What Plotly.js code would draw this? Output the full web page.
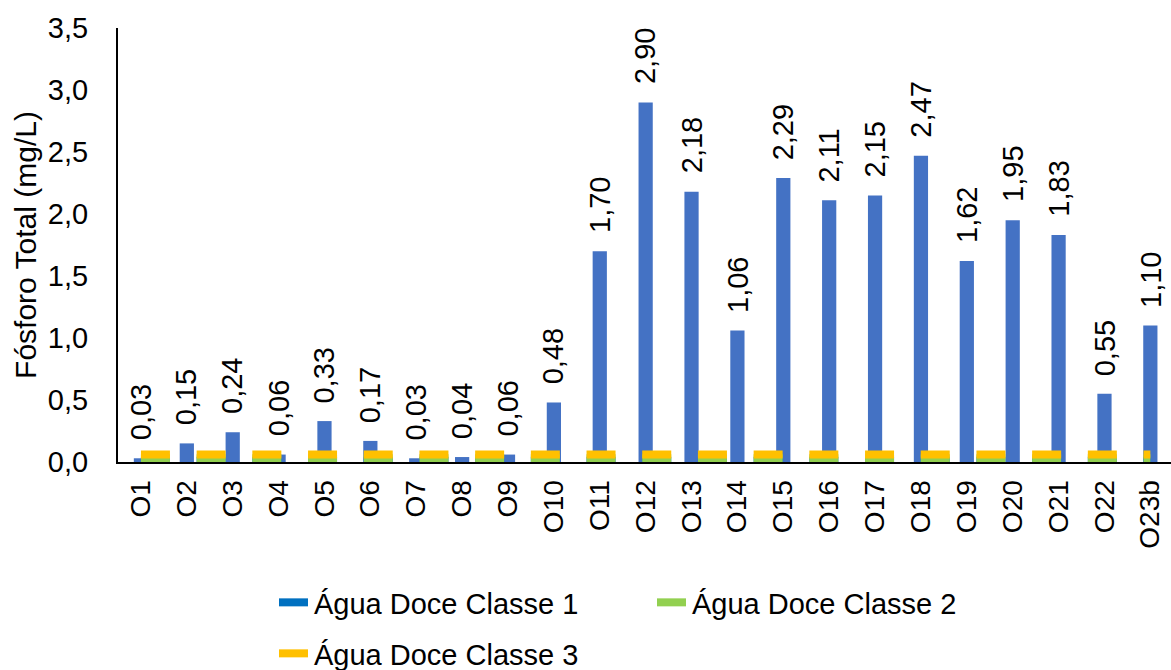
<!DOCTYPE html>
<html>
<head>
<meta charset="utf-8">
<script src="https://cdn.plot.ly/plotly-3.0.1.min.js"></script>
<style>html,body{margin:0;padding:0;overflow:hidden;background:#fff}</style>
</head>
<body>
<div id="chart" style="width:1171px;height:670px"></div>
<script>
const categories = ['O1','O2','O3','O4','O5','O6','O7','O8','O9','O10','O11','O12','O13','O14','O15','O16','O17','O18','O19','O20','O21','O22','O23b'];
const fosforoTotal = [0.03,0.15,0.24,0.06,0.33,0.17,0.03,0.04,0.06,0.48,1.70,2.90,2.18,1.06,2.29,2.11,2.15,2.47,1.62,1.95,1.83,0.55,1.10];
const limiteClasse1 = [0.010, 0.010];
const limiteClasse2 = [0.030, 0.030];
const limiteClasse3 = [0.060, 0.060];
const limiteX = [categories[0], categories[categories.length-1]];
const yTicks = [0,0.5,1,1.5,2,2.5,3,3.5];

const FONT = 'Liberation Sans, Arial, sans-serif';
const labels = fosforoTotal.map(v => v.toFixed(2).replace('.', ','));
const DASH = '29px,26.7px';

const traces = [
  {
    type: 'bar', x: categories, y: fosforoTotal, width: 0.31,
    marker: {color: '#4472C4'},
    showlegend: false, hoverinfo: 'x+y'
  },
  {
    type: 'scatter', mode: 'lines', name: 'Água Doce Classe 1',
    x: limiteX, y: limiteClasse1,
    line: {color: '#0070C0', width: 8, dash: DASH}, legend: 'legend'
  },
  {
    type: 'scatter', mode: 'lines', name: 'Água Doce Classe 2',
    x: limiteX, y: limiteClasse2,
    line: {color: '#92D050', width: 8, dash: DASH}, legend: 'legend'
  },
  {
    type: 'scatter', mode: 'lines', name: 'Água Doce Classe 3',
    x: limiteX, y: limiteClasse3,
    line: {color: '#FFC000', width: 8, dash: DASH}, legend: 'legend2'
  }
];

const annotations = categories.map((c, i) => ({
  x: c, y: fosforoTotal[i], xref: 'x', yref: 'y',
  text: labels[i], textangle: -90, showarrow: false,
  xanchor: 'center', yanchor: 'bottom', yshift: 16,
  font: {family: FONT, size: 29, color: '#000'}
}));

const layout = {
  width: 1171, height: 670,
  margin: {l: 118, r: 0, t: 28, b: 208},
  paper_bgcolor: '#fff', plot_bgcolor: '#fff',
  separators: ',.',
  font: {family: FONT, size: 28, color: '#000'},
  xaxis: {
    type: 'category', range: [-0.5, 22.45],
    showline: true, linecolor: '#000', linewidth: 2, layer: 'below traces',
    showgrid: false, zeroline: false, ticks: '',
    tickangle: -90, tickfont: {family: FONT, size: 28, color: '#000'},
    ticklabelstandoff: 5, automargin: false
  },
  yaxis: {
    range: [0, 3.5], tickvals: yTicks, tickformat: '.1f',
    showline: true, linecolor: '#000', linewidth: 2,
    showgrid: false, zeroline: false, ticks: '',
    tickfont: {family: FONT, size: 29, color: '#000'},
    ticklabelstandoff: 22, automargin: false,
    title: {text: 'Fósforo Total (mg/L)', font: {family: FONT, size: 30, color: '#000'}, standoff: 2}
  },
  annotations: annotations,
  legend: {
    orientation: 'h', xref: 'container', yref: 'container',
    x: 274/1171, y: 1 - 577/670, xanchor: 'left', yanchor: 'top',
    entrywidth: 333, entrywidthmode: 'pixels',
    font: {family: FONT, size: 29, color: '#000'}, bgcolor: 'rgba(0,0,0,0)'
  },
  legend2: {
    orientation: 'h', xref: 'container', yref: 'container',
    x: 274/1171, y: 1 - 628/670, xanchor: 'left', yanchor: 'top',
    font: {family: FONT, size: 29, color: '#000'}, bgcolor: 'rgba(0,0,0,0)'
  },
  showlegend: true
};

Plotly.newPlot('chart', traces, layout, {displayModeBar: false, staticPlot: true});
</script>
</body>
</html>
